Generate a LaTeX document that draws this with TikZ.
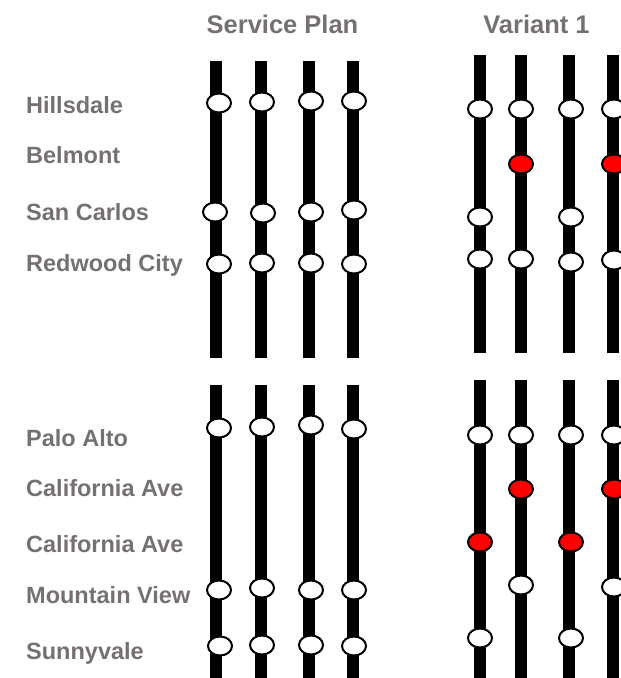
\documentclass[tikz,border=0pt]{standalone}
\usepackage{fontspec}
\setmainfont{Liberation Sans}
\usepackage{xcolor}
\usetikzlibrary{shapes.geometric}
\definecolor{labelgray}{RGB}{118,113,113}

\begin{document}
\begin{tikzpicture}[
    x=1pt, y=-1pt, % one unit per pixel, counted downwards
    track/.style={line width=11.5pt},
    halt/.style={ellipse, draw, line width=2pt, fill=white, minimum width=24pt, minimum height=19pt, inner sep=0pt},
    skiphalt/.style={halt, fill=red},
    station/.style={anchor=base west, text=labelgray, font=\bfseries\fontsize{23.5}{28}\selectfont, inner sep=0pt},
    heading/.style={anchor=base, text=labelgray, font=\bfseries\fontsize{25.5}{30}\selectfont, inner sep=0pt}
  ]
    \useasboundingbox (0,0) rectangle (621,678);

    % Headings
    \node[heading] (plan) at (282.5,33) {Service Plan};
    \node[heading] (variant) at (536.5,33) {Variant 1};

    % Station names
    \node[station] (hillsdale) at (26,113) {Hillsdale};
    \node[station] (belmont) at (26,163) {Belmont};
    \node[station] (sancarlos) at (26,220) {San Carlos};
    \node[station] (redwood) at (26,271.5) {Redwood City};
    \node[station] (paloalto) at (26,446.5) {Palo Alto};
    \node[station] (calave) at (26,496) {California Ave};
    \node[station] (calavetwo) at (26,552.5) {California Ave};
    \node[station] (mtview) at (26,603) {Mountain View};
    \node[station] (sunnyvale) at (26,659) {Sunnyvale};

    % Tracks
    \foreach \x in {216,261,309,353} {
      \draw[track] (\x,61) -- (\x,358);
      \draw[track] (\x,385) -- (\x,678);
    }
    \foreach \x in {480,521,569,613} {
      \draw[track] (\x,55) -- (\x,353);
      \draw[track] (\x,380) -- (\x,678);
    }

    % Service plan, north part
    \node[halt] (sp-h1) at (219,103) {};
    \node[halt] (sp-h2) at (262,102) {};
    \node[halt] (sp-h3) at (311,101) {};
    \node[halt] (sp-h4) at (354,101) {};
    \node[halt] (sp-s1) at (215,212) {};
    \node[halt] (sp-s2) at (263,213) {};
    \node[halt] (sp-s3) at (311,212) {};
    \node[halt] (sp-s4) at (354,210) {};
    \node[halt] (sp-r1) at (219,264) {};
    \node[halt] (sp-r2) at (262,263) {};
    \node[halt] (sp-r3) at (311,263) {};
    \node[halt] (sp-r4) at (354,264) {};

    % Service plan, south part
    \node[halt] (sp-p1) at (219,428) {};
    \node[halt] (sp-p2) at (262,427) {};
    \node[halt] (sp-p3) at (311,425) {};
    \node[halt] (sp-p4) at (354,429) {};
    \node[halt] (sp-m1) at (219,590) {};
    \node[halt] (sp-m2) at (262,588) {};
    \node[halt] (sp-m3) at (311,590) {};
    \node[halt] (sp-m4) at (354,590) {};
    \node[halt] (sp-v1) at (220,646) {};
    \node[halt] (sp-v2) at (262,645) {};
    \node[halt] (sp-v3) at (311,645) {};
    \node[halt] (sp-v4) at (354,646) {};

    % Variant 1, north part
    \node[halt] (va-h1) at (480,109) {};
    \node[halt] (va-h2) at (521,109) {};
    \node[halt] (va-h3) at (571,109) {};
    \node[halt] (va-h4) at (614,109) {};
    \node[skiphalt] (va-b2) at (521,164) {};
    \node[skiphalt] (va-b4) at (614,164) {};
    \node[halt] (va-s1) at (480,217) {};
    \node[halt] (va-s3) at (571,217) {};
    \node[halt] (va-r1) at (480,259) {};
    \node[halt] (va-r2) at (521,259) {};
    \node[halt] (va-r3) at (571,262) {};
    \node[halt] (va-r4) at (614,260) {};

    % Variant 1, south part
    \node[halt] (va-p1) at (480,435) {};
    \node[halt] (va-p2) at (521,435) {};
    \node[halt] (va-p3) at (571,435) {};
    \node[halt] (va-p4) at (614,435) {};
    \node[skiphalt] (va-c2) at (521,489) {};
    \node[skiphalt] (va-c4) at (614,489) {};
    \node[skiphalt] (va-d1) at (480,542) {};
    \node[skiphalt] (va-d3) at (571,542) {};
    \node[halt] (va-m2) at (521,585) {};
    \node[halt] (va-m4) at (614,587) {};
    \node[halt] (va-v1) at (480,638) {};
    \node[halt] (va-v3) at (571,638) {};

  \end{tikzpicture}
\end{document}
